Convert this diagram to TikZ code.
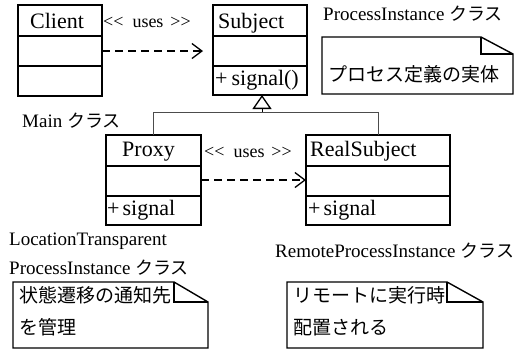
\documentclass[tikz,border=0pt]{standalone}
\usepackage{fontspec}
\setmainfont{Liberation Serif}
\newfontfamily\jpfont{Noto Sans CJK JP}
\usetikzlibrary{arrows.meta}
\newcommand\jpkls{{\jpfont\fontsize{18}{20}\selectfont クラス}}
\newcommand\usestext{<{}<\hspace{9pt}uses\hspace{7pt}>{}>}
\begin{document}
\begin{tikzpicture}[x=1pt,y=-1pt,
  box/.style={draw, line width=1.4pt, inner sep=0pt, outer sep=0pt},
  sep/.style={line width=1.4pt},
  cname/.style={font=\fontsize{22}{24}\selectfont, anchor=base west, inner sep=0pt},
  lbl/.style={font=\fontsize{19}{21}\selectfont, anchor=base west, inner sep=0pt},
  uses/.style={font=\fontsize{18}{20}\selectfont, anchor=base west, inner sep=0pt},
  jp/.style={font=\jpfont\fontsize{19}{21}\selectfont, anchor=base west, inner sep=0pt},
  dep/.style={line width=2.4pt, dash pattern=on 8pt off 5pt,
    -{Straight Barb[length=10pt,width=15pt,line width'=1.3pt]}},
  gen/.style={line width=1pt, draw=black!70},
  genhead/.style={line width=1pt, -{Triangle[open,length=14pt,width=19pt,line width'=1.3pt]}},
  notebg/.style={inner sep=0pt, outer sep=0pt},
  note/.style={line width=1.4pt, line join=miter}
]
\useasboundingbox (0,0) rectangle (522,354);

% class boxes
\node[box, minimum width=84pt, minimum height=91pt] (client) at (60,50.5) {};
\node[box, minimum width=94pt, minimum height=90pt] (subject) at (260,50) {};
\node[box, minimum width=95pt, minimum height=90pt] (proxy) at (153.5,180) {};
\node[box, minimum width=144pt, minimum height=90pt] (real) at (378,180) {};

% compartment separators
\foreach \b in {client,subject,proxy,real}{
  \draw[sep] ([yshift=-31pt]\b.north west) -- ([yshift=-31pt]\b.north east);
  \draw[sep] ([yshift=-61pt]\b.north west) -- ([yshift=-61pt]\b.north east);
}

% class names and operations
\node[cname] (tclient) at (30,28) {Client};
\node[cname] (tsubject) at (218,28) {Subject};
\node[cname] (tsubop) at (215,85) {+\hspace{4pt}signal()};
\node[cname] (tproxy) at (122,156) {Proxy};
\node[cname] (tproxyop) at (107,215) {+\hspace{3pt}signal};
\node[cname] (treal) at (310,156) {RealSubject};
\node[cname] (trealop) at (308,215) {+\hspace{3pt}signal};

% dependencies
\node[uses] (uses1) at (103,27) {\usestext};
\node[uses] (uses2) at (204,157) {\usestext};
\draw[dep] ([yshift=-46pt]client.north east) -- ([xshift=-10pt,yshift=-46pt]subject.north west);
\draw[dep] ([yshift=-45pt]proxy.north east) -- ([yshift=-45pt]real.north west);

% generalization
\coordinate (gj) at (262,112);
\draw[gen] (proxy.north) -- ++(0,-23) -| (real.north);
\draw[genhead] (gj) -- (gj |- subject.south);

% notes
\node[notebg, minimum width=191pt, minimum height=57pt] (note1) at (417.5,65.5) {};
\draw[note] (note1.north west) -- ([xshift=-32pt]note1.north east) -- ([yshift=-17pt]note1.north east) -- (note1.south east) -- (note1.south west) -- cycle;
\draw[note] ([xshift=-32pt]note1.north east) |- ([yshift=-17pt]note1.north east);

\node[notebg, minimum width=195pt, minimum height=66pt] (note2) at (110.5,315) {};
\draw[note] (note2.north west) -- ([xshift=-34pt]note2.north east) -- ([yshift=-20pt]note2.north east) -- (note2.south east) -- (note2.south west) -- cycle;
\draw[note] ([xshift=-34pt]note2.north east) |- ([yshift=-20pt]note2.north east);

\node[notebg, minimum width=196pt, minimum height=66pt] (note3) at (385,315) {};
\draw[note] (note3.north west) -- ([xshift=-36pt]note3.north east) -- ([yshift=-20pt]note3.north east) -- (note3.south east) -- (note3.south west) -- cycle;
\draw[note] ([xshift=-36pt]note3.north east) |- ([yshift=-20pt]note3.north east);

\node[jp] (n1a) at (328,81) {プロセス定義の実体};
\node[jp] (n2a) at (19,302) {状態遷移の通知先};
\node[jp] (n2b) at (19,334) {を管理};
\node[jp] (n3a) at (293,302) {リモートに実行時};
\node[jp] (n3b) at (293,334) {配置される};

% class labels
\node[lbl] (lpi) at (323,20) {ProcessInstance \jpkls};
\node[lbl] (lmain) at (22,127) {Main \jpkls};
\node[lbl] (llt1) at (9,245) {LocationTransparent};
\node[lbl] (llt2) at (9,274) {ProcessInstance \jpkls};
\node[lbl] (lremote) at (275,257) {RemoteProcessInstance \jpkls};
\end{tikzpicture}
\end{document}
